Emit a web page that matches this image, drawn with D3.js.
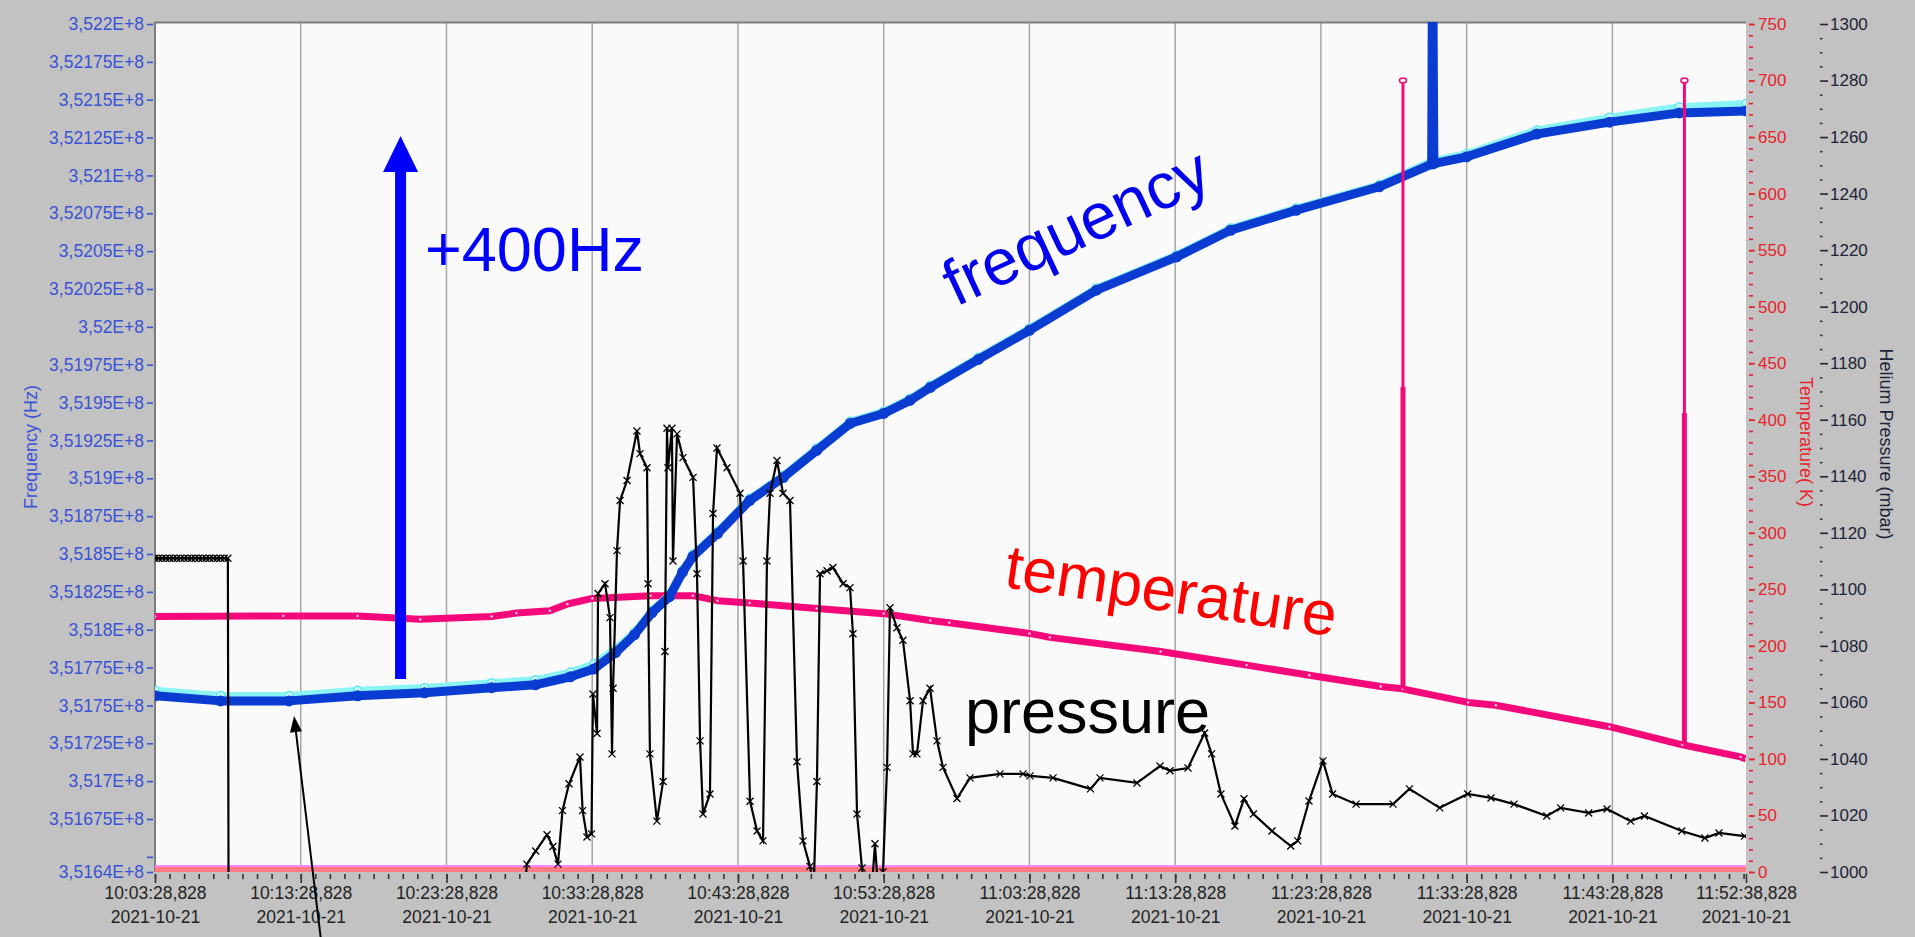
<!DOCTYPE html>
<html>
<head>
<meta charset="utf-8">
<script src="https://cdn.jsdelivr.net/npm/d3@7"></script>
<style>
    html, body { margin: 0; padding: 0; background: #c2c2c2; overflow: hidden; }
    svg { display: block; font-family: "Liberation Sans", Arial, sans-serif; }
</style>
</head>
<body>
<div id="chart"></div>
<script>

// Data ///////////////////////////////////////////////////////////////////////
// time in minutes after 10:03:28,828 on 2021-10-21

const freqDark = [
    [0, 351756400], [4.5, 351753000], [9.2, 351753000], [13.9, 351756400],
    [18.5, 351758300], [23.1, 351761700], [26.1, 351763600], [28.5, 351768900],
    [30.1, 351774000], [31.6, 351784800], [32.9, 351796700], [34.1, 351811300],
    [35.3, 351821800], [36.2, 351838000], [36.9, 351848300], [38.6, 351863500],
    [40.8, 351885300], [43.1, 351900500], [45.4, 351918400], [47.7, 351936200],
    [50.0, 351942800], [51.8, 351951400], [53.2, 351960000], [56.5, 351978500],
    [60.0, 351997700], [64.6, 352024200], [70.1, 352046200], [73.8, 352063800],
    [78.3, 352077000], [84.0, 352092500], [87.6, 352107500], [87.66, 352260000],
    [87.75, 352107800], [90.0, 352112300], [94.8, 352127300], [99.8, 352135200],
    [104.6, 352141300], [109.17, 352142600]
];

const freqLight = [
    [0, 351760000], [4.5, 351756500], [9.2, 351756500], [13.9, 351760000],
    [18.5, 351761800], [23.1, 351765000], [26.1, 351767000], [28.5, 351772000],
    [30.1, 351777500], [31.6, 351787500], [32.9, 351798500], [34.1, 351812800],
    [35.3, 351823300], [36.2, 351839500], [36.9, 351849800], [38.6, 351865000],
    [40.8, 351886800], [43.1, 351902000], [45.4, 351920000], [47.7, 351937700],
    [50.0, 351944300], [51.8, 351952900], [53.2, 351961500], [56.5, 351980000],
    [60.0, 351999200], [64.6, 352025700], [70.1, 352047700], [73.8, 352065300],
    [78.3, 352078500], [84.0, 352094000], [87.6, 352109500], [90.0, 352114500],
    [94.8, 352130000], [99.8, 352138500], [104.6, 352145300], [109.17, 352147500]
];

const temperature = [
    [0, 226], [8.8, 226.5], [13.9, 226.5], [18.2, 223.5], [23.1, 226], [24.8, 229],
    [27.1, 231], [28.3, 237], [30.0, 242], [34.0, 244.4], [36.9, 244.4], [38.6, 240],
    [40.8, 238], [45.4, 233], [50.0, 228.5], [53.2, 222.5], [54.5, 220.5], [60.0, 211],
    [61.4, 207.5], [69.0, 195], [74.9, 183], [79.2, 174], [84.1, 164], [85.6, 162],
    [90.1, 150], [92.0, 147.5], [99.8, 128.5], [104.8, 112.5], [108.8, 101.8], [109.17, 100]
];

// short temperature glitches
const spikeTimes = [85.63, 104.94];
const spikeBases = [162, 113];
const spikeMids = [429, 406];
const spikeTops = [700, 700];

// second temperature channel sitting on zero
const tempFloor = [[0, 0], [109.17, 0]];

const pressure = [
    [0, 1111], [0.25, 1111], [0.5, 1111], [0.75, 1111], [1, 1111], [1.25, 1111],
    [1.5, 1111], [1.75, 1111], [2, 1111], [2.25, 1111], [2.5, 1111], [2.75, 1111],
    [3, 1111], [3.25, 1111], [3.5, 1111], [3.75, 1111], [4, 1111], [4.25, 1111],
    [4.5, 1111], [4.75, 1111], [5.0, 1111], [5.05, 985], [25.3, 985],
    [25.51, 1002.8], [26.12, 1007.4], [26.9, 1013.2], [27.3, 1009], [27.65, 1002.8],
    [27.96, 1021.7], [28.41, 1031.2], [29.16, 1040.7], [29.34, 1021.7], [29.64, 1012.4],
    [29.95, 1013.5], [30.05, 1063], [30.33, 1049], [30.40, 1098.5], [30.88, 1102],
    [31.22, 1090], [31.36, 1041.8], [31.43, 1065], [31.70, 1113.7], [31.91, 1131.4],
    [32.39, 1138.5], [33.07, 1156], [33.28, 1148], [33.76, 1143], [33.83, 1102],
    [33.96, 1041.8], [34.44, 1018], [34.86, 1032], [34.99, 1078], [35.13, 1157],
    [35.20, 1143], [35.47, 1157], [35.54, 1110], [35.82, 1155], [36.23, 1146.6],
    [36.92, 1139.6], [37.19, 1105.5], [37.40, 1046.4], [37.60, 1020.5], [38.08, 1027.6],
    [38.29, 1126.8], [38.56, 1150], [39.25, 1143], [40.14, 1134], [40.35, 1110],
    [40.83, 1025], [41.31, 1014.5], [41.72, 1011], [41.99, 1110], [42.20, 1134],
    [42.68, 1145.6], [43.09, 1134], [43.57, 1131.4], [44.05, 1039], [44.46, 1011],
    [44.94, 1002], [45.2, 995], [45.42, 1032], [45.63, 1105.5], [46.11, 1106.6],
    [46.52, 1107.7], [47.21, 1102], [47.69, 1100.6], [47.89, 1084.3], [48.17, 1020.5],
    [48.51, 1001.4], [48.7, 995], [49.2, 995], [49.40, 1010], [49.6, 995], [49.8, 995],
    [49.95, 1000], [50.23, 1037], [50.43, 1093.5], [50.91, 1086.4], [51.32, 1082],
    [51.81, 1060.6], [52.01, 1041.8], [52.28, 1041.8], [52.70, 1060.6], [53.18, 1065],
    [53.66, 1046.4], [54.07, 1037], [55.03, 1026], [55.92, 1033.3], [57.98, 1034.7],
    [59.56, 1034.7], [60.04, 1034], [61.62, 1033.3], [64.19, 1029.4], [64.84, 1033.3],
    [67.38, 1031.5], [68.96, 1037.5], [69.64, 1035.8], [70.88, 1036.8], [72.02, 1049.2],
    [72.50, 1041.8], [73.14, 1027.6], [74.10, 1016.3], [74.72, 1025.9], [75.37, 1020.5],
    [76.64, 1014.5], [77.93, 1009.2], [78.41, 1011], [79.18, 1025.1], [80.14, 1039.3],
    [80.80, 1027.6], [82.41, 1024], [84.95, 1024], [86.07, 1029.4], [88.15, 1022.7],
    [90.07, 1027.6], [91.67, 1026.2], [93.25, 1024], [95.50, 1019.8], [96.45, 1022.7],
    [98.37, 1020.9], [99.63, 1022.3], [101.25, 1018], [102.20, 1019.8], [104.76, 1014.5],
    [106.35, 1012], [107.31, 1013.8], [109.07, 1012.7]
];

// Ticks //////////////////////////////////////////////////////////////////////

const xTickMinutes = [0, 10, 20, 30, 40, 50, 60, 70, 80, 90, 100, 109.1667];
const xTickTimes = [
    "10:03:28,828", "10:13:28,828", "10:23:28,828", "10:33:28,828",
    "10:43:28,828", "10:53:28,828", "11:03:28,828", "11:13:28,828",
    "11:23:28,828", "11:33:28,828", "11:43:28,828", "11:52:38,828"
];
const xTickDate = "2021-10-21";

const freqTicks = [
    351640000, 351650000, 351675000, 351700000, 351725000, 351750000, 351775000,
    351800000, 351825000, 351850000, 351875000, 351900000, 351925000, 351950000,
    351975000, 352000000, 352025000, 352050000, 352075000, 352100000, 352125000,
    352150000, 352175000, 352200000
];
const freqLabels = [
    "3,5164E+8", "", "3,51675E+8", "3,517E+8", "3,51725E+8", "3,5175E+8", "3,51775E+8",
    "3,518E+8", "3,51825E+8", "3,5185E+8", "3,51875E+8", "3,519E+8", "3,51925E+8",
    "3,5195E+8", "3,51975E+8", "3,52E+8", "3,52025E+8", "3,5205E+8", "3,52075E+8",
    "3,521E+8", "3,52125E+8", "3,5215E+8", "3,52175E+8", "3,522E+8"
];
const tempTicks = d3.range(0, 751, 50);
const pressTicks = d3.range(1000, 1301, 20);

// annotations (data units)
const bigArrow = { t: 16.85, from: 351767450, to: 352126000 };
const smallArrow = { t0: 11.39, f0: 351595000, t1: 9.54, f1: 351743000 };

// Layout /////////////////////////////////////////////////////////////////////

const W = 1915, H = 937;
const plot = { left: 155, right: 1746, top: 24, bottom: 872 };

const colors = {
    bg: "#c2c2c2",
    plot: "#fafafa",
    grid: "#a6a6a6",
    freqAxis: "#3a52d6",
    tempAxis: "#e8222c",
    pressAxis: "#1d2236",
    dark: "#0a3cd2",
    light: "#8af4f4",
    temp: "#f5087a"
};

const x = d3.scaleLinear().domain([0, 109.1667]).range([plot.left, plot.right]);
const yF = d3.scaleLinear().domain([351640000, 352200000]).range([plot.bottom, plot.top]);
const yT = d3.scaleLinear().domain([0, 750]).range([plot.bottom, plot.top]);
const yP = d3.scaleLinear().domain([1000, 1300]).range([plot.bottom, plot.top]);

const svg = d3.select("#chart")
    .append("svg")
        .attr("width", W)
        .attr("height", H)
        .attr("viewBox", [0, 0, W, H]);

svg.append("rect")
    .attr("width", W)
    .attr("height", H)
    .attr("fill", colors.bg);

svg.append("defs").append("clipPath")
    .attr("id", "plot-clip")
    .append("rect")
        .attr("x", plot.left)
        .attr("y", 22)
        .attr("width", plot.right - plot.left)
        .attr("height", plot.bottom - 22);

svg.append("rect")
    .attr("x", plot.left)
    .attr("y", 22)
    .attr("width", plot.right - plot.left)
    .attr("height", plot.bottom - 22)
    .attr("fill", colors.plot);

// grid
svg.append("g")
    .selectAll("line")
    .data(xTickMinutes.slice(1, -1))
    .join("line")
        .attr("x1", d => x(d)).attr("x2", d => x(d))
        .attr("y1", 22).attr("y2", plot.bottom)
        .attr("stroke", colors.grid)
        .attr("stroke-width", 1.5);

// frame
svg.append("path")
    .attr("d", `M${plot.left},${plot.bottom}V22.5H${plot.right}`)
    .attr("fill", "none")
    .attr("stroke", "#7c7c7c")
    .attr("stroke-width", 2);


// Axes ///////////////////////////////////////////////////////////////////////

function styleAxis(g, color, size = 17) {
    g.select(".domain").remove();
    g.selectAll("line").attr("stroke", color).attr("stroke-width", 1.6);
    g.selectAll("text")
        .attr("fill", color)
        .attr("font-size", size)
        .attr("font-family", "'Liberation Sans', Arial, sans-serif");
}

svg.append("g")
    .attr("transform", `translate(${plot.left - 2},0)`)
    .call(d3.axisLeft(yF).tickValues(freqTicks).tickFormat((d, i) => freqLabels[i]).tickSize(6).tickPadding(3))
    .call(styleAxis, colors.freqAxis, 17.5);

svg.append("g")
    .attr("transform", "translate(1749,0)")
    .call(d3.axisRight(yT).tickValues(d3.range(0, 751, 10)).tickFormat("").tickSize(4))
    .call(styleAxis, colors.tempAxis);

svg.append("g")
    .attr("transform", "translate(1749,0)")
    .call(d3.axisRight(yT).tickValues(tempTicks).tickFormat(d3.format("d")).tickSize(6).tickPadding(3))
    .call(styleAxis, colors.tempAxis);

svg.append("g")
    .attr("transform", "translate(1820,0)")
    .call(d3.axisRight(yP).tickValues(d3.range(1000, 1301, 5)).tickFormat("").tickSize(2.5))
    .call(styleAxis, "#333");

svg.append("g")
    .attr("transform", "translate(1822,0)")
    .call(d3.axisRight(yP).tickValues(pressTicks).tickFormat(d3.format("d")).tickSize(6).tickPadding(2))
    .call(styleAxis, colors.pressAxis);

svg.append("g")
    .attr("transform", `translate(0,${plot.bottom + 2})`)
    .call(d3.axisBottom(x).tickValues(d3.range(0, 110, 1)).tickFormat("").tickSize(5))
    .call(styleAxis, "#333");

const xAxis = svg.append("g")
    .attr("transform", `translate(0,${plot.bottom + 2})`)
    .call(d3.axisBottom(x).tickValues(xTickMinutes).tickFormat("").tickSize(9))
    .call(styleAxis, "#333");

xAxis.selectAll(".tick").each(function(d, i) {
    const tick = d3.select(this);
    tick.append("text")
        .attr("y", 25)
        .attr("text-anchor", "middle")
        .attr("fill", "#222")
        .attr("font-size", 17.5)
        .text(xTickTimes[i]);
    tick.append("text")
        .attr("y", 49)
        .attr("text-anchor", "middle")
        .attr("fill", "#222")
        .attr("font-size", 17.5)
        .text(xTickDate);
});

// axis titles
svg.append("text")
    .attr("transform", "translate(31,447) rotate(-90)")
    .attr("text-anchor", "middle")
    .attr("dominant-baseline", "central")
    .attr("font-size", 18)
    .attr("fill", colors.freqAxis)
    .text("Frequency (Hz)");

svg.append("text")
    .attr("transform", "translate(1806,442) rotate(90)")
    .attr("text-anchor", "middle")
    .attr("dominant-baseline", "central")
    .attr("font-size", 18)
    .attr("fill", colors.tempAxis)
    .text("Temperature( K)");

svg.append("text")
    .attr("transform", "translate(1886,444) rotate(90)")
    .attr("text-anchor", "middle")
    .attr("dominant-baseline", "central")
    .attr("font-size", 18)
    .attr("fill", colors.pressAxis)
    .text("Helium Pressure (mbar)");


// Series /////////////////////////////////////////////////////////////////////

const layer = svg.append("g").attr("clip-path", "url(#plot-clip)");

const lineOf = y => d3.line().x(d => x(d[0])).y(d => y(d[1]));

// zero channel at the floor
layer.append("path")
    .attr("d", lineOf(yT)(tempFloor))
    .attr("fill", "none")
    .attr("stroke", "#ff88ff")
    .attr("stroke-width", 14);
layer.append("path")
    .attr("d", lineOf(yT)(tempFloor))
    .attr("fill", "none")
    .attr("stroke", "#ff7c84")
    .attr("stroke-width", 10);

// temperature
layer.append("path")
    .attr("d", lineOf(yT)(temperature))
    .attr("fill", "none")
    .attr("stroke", colors.temp)
    .attr("stroke-width", 7)
    .attr("stroke-linejoin", "round");
layer.append("g")
    .selectAll("circle")
    .data(temperature)
    .join("circle")
        .attr("cx", d => x(d[0]))
        .attr("cy", d => yT(d[1]))
        .attr("r", 1.2)
        .attr("fill", "#ffd0e4");

// frequency, light trace then dark trace
layer.append("path")
    .attr("d", lineOf(yF)(freqLight))
    .attr("fill", "none")
    .attr("stroke", colors.light)
    .attr("stroke-width", 7)
    .attr("stroke-linejoin", "round")
    .attr("stroke-linecap", "round");
layer.append("g")
    .selectAll("circle")
    .data(freqLight)
    .join("circle")
        .attr("cx", d => x(d[0]))
        .attr("cy", d => yF(d[1]))
        .attr("r", 4)
        .attr("fill", "#c4fbfb")
        .attr("stroke", "#62e6ee")
        .attr("stroke-width", 1.5);

layer.append("path")
    .attr("d", lineOf(yF)(freqDark))
    .attr("fill", "none")
    .attr("stroke", colors.dark)
    .attr("stroke-width", 9)
    .attr("stroke-linejoin", "round")
    .attr("stroke-linecap", "round");
layer.append("g")
    .selectAll("circle")
    .data(freqDark)
    .join("circle")
        .attr("cx", d => x(d[0]))
        .attr("cy", d => yF(d[1]))
        .attr("r", 5.5)
        .attr("fill", colors.dark);

// temperature glitches
const spikes = layer.append("g")
    .selectAll("g")
    .data(spikeTimes)
    .join("g");
spikes.append("line")
    .attr("x1", d => x(d)).attr("x2", d => x(d))
    .attr("y1", (d, i) => yT(spikeBases[i]))
    .attr("y2", (d, i) => yT(spikeMids[i]))
    .attr("stroke", colors.temp)
    .attr("stroke-width", 5);
spikes.append("line")
    .attr("x1", d => x(d)).attr("x2", d => x(d))
    .attr("y1", (d, i) => yT(spikeMids[i]))
    .attr("y2", (d, i) => yT(spikeTops[i]))
    .attr("stroke", colors.temp)
    .attr("stroke-width", 3);
spikes.append("ellipse")
    .attr("cx", d => x(d))
    .attr("cy", (d, i) => yT(spikeTops[i]))
    .attr("rx", 3.5).attr("ry", 2.5)
    .attr("fill", "#fff0f6")
    .attr("stroke", colors.temp)
    .attr("stroke-width", 1.5);

// pressure
layer.append("path")
    .attr("d", lineOf(yP)(pressure))
    .attr("fill", "none")
    .attr("stroke", "#000")
    .attr("stroke-width", 2.2);
layer.append("g")
    .selectAll("path")
    .data(pressure)
    .join("path")
        .attr("transform", d => `translate(${x(d[0])},${yP(d[1])})`)
        .attr("d", "M-3.5,-3.5L3.5,3.5M-3.5,3.5L3.5,-3.5")
        .attr("stroke", "#000")
        .attr("stroke-width", 1.3);


// Annotations ////////////////////////////////////////////////////////////////

const ax = x(bigArrow.t);
const aBase = yF(bigArrow.from);
const aTip = yF(bigArrow.to);
svg.append("path")
    .attr("d", `M${ax - 5.5},${aBase}V${aTip + 36}H${ax - 17.5}L${ax},${aTip}L${ax + 17.5},${aTip + 36}H${ax + 5.5}V${aBase}Z`)
    .attr("fill", "#0000ff");

svg.append("text")
    .attr("x", 425)
    .attr("y", 271)
    .attr("font-size", 63)
    .attr("fill", "#0000ff")
    .text("+400Hz");

svg.append("text")
    .attr("transform", "translate(956,307) rotate(-25)")
    .attr("font-size", 65)
    .attr("fill", "#0000ee")
    .text("frequency");

svg.append("text")
    .attr("transform", "translate(1003,587) rotate(8.5)")
    .attr("font-size", 62)
    .attr("fill", "#ff0000")
    .text("temperature");

svg.append("text")
    .attr("transform", "translate(965,733)")
    .attr("font-size", 63)
    .attr("fill", "#000")
    .text("pressure");

// thin pointer to the frequency trace
const p0 = [x(smallArrow.t0), yF(smallArrow.f0)];
const p1 = [x(smallArrow.t1), yF(smallArrow.f1)];
const ang = Math.atan2(p1[1] - p0[1], p1[0] - p0[0]);
const headLen = 16, headW = 6;
const hb = [p1[0] - headLen * Math.cos(ang), p1[1] - headLen * Math.sin(ang)];
svg.append("line")
    .attr("x1", p0[0]).attr("y1", p0[1])
    .attr("x2", hb[0]).attr("y2", hb[1])
    .attr("stroke", "#000")
    .attr("stroke-width", 2);
svg.append("path")
    .attr("d", `M${p1[0]},${p1[1]}L${hb[0] + headW * Math.sin(ang)},${hb[1] - headW * Math.cos(ang)}L${hb[0] - headW * Math.sin(ang)},${hb[1] + headW * Math.cos(ang)}Z`)
    .attr("fill", "#000");

</script>
</body>
</html>
